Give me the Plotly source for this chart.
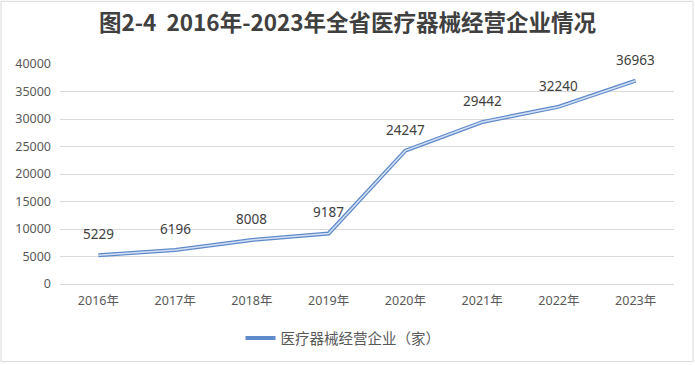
import plotly.graph_objects as go

years = ["2016年", "2017年", "2018年", "2019年", "2020年", "2021年", "2022年", "2023年"]
values = [5229, 6196, 8008, 9187, 24247, 29442, 32240, 36963]
series_name = "医疗器械经营企业（家）"
title_text = "图2-4  2016年-2023年全省医疗器械经营企业情况"
y_ticks = [0, 5000, 10000, 15000, 20000, 25000, 30000, 35000, 40000]

W, H = 695, 365
ml, mr, mt, mb = 60, 21, 64, 80
font_fam = "Noto Sans, Noto Sans CJK SC, sans-serif"

fig = go.Figure()
fig.add_trace(go.Scatter(
    x=years, y=values, mode="lines", name=series_name,
    line=dict(color="#5F8ACB", width=4), showlegend=True,
))
fig.add_trace(go.Scatter(
    x=years, y=values, mode="lines", name=series_name,
    line=dict(color="#D3E0F2", width=1.5), showlegend=False, hoverinfo="skip",
))

for x, v in zip(years, values):
    fig.add_annotation(x=x, y=v, text=str(v), showarrow=False, yshift=21,
                       font=dict(size=13.5, color="#404040", family=font_fam))

pw = W - ml - mr
ph = H - mt - mb
def px2x(p): return (p - ml) / pw
def py2y(p): return 1 - (p - mt) / ph

fig.add_shape(type="rect", xref="paper", yref="paper",
              x0=px2x(1), x1=px2x(W - 2), y0=py2y(1), y1=py2y(H - 2),
              line=dict(color="#D9D9D9", width=1), fillcolor="rgba(0,0,0,0)", layer="below")

fig.update_layout(
    width=W, height=H,
    margin=dict(l=ml, r=mr, t=mt, b=mb),
    paper_bgcolor="white", plot_bgcolor="white",
    title=dict(text=title_text, x=0.5, xanchor="center", y=1 - 23 / H, yanchor="middle",
               font=dict(size=22.5, color="#404040", family="Noto Sans CJK SC, sans-serif", weight="bold")),
    font=dict(family=font_fam, color="#595959", size=12),
    xaxis=dict(type="category", showgrid=False, showline=False, zeroline=False,
               tickfont=dict(size=12.5, color="#595959"), ticks="", ticklabelstandoff=7,
               range=[-0.5, len(years) - 0.5]),
    yaxis=dict(range=[0, 40000], tickvals=y_ticks, ticktext=[str(t) for t in y_ticks],
               showgrid=True, gridcolor="#D9D9D9", gridwidth=1, zeroline=True,
               zerolinecolor="#D9D9D9", zerolinewidth=1, showline=False,
               tickfont=dict(size=12.5, color="#595959"), ticks="", ticklabelstandoff=8),
    legend=dict(orientation="h", x=px2x(343), xanchor="center", y=py2y(338), yanchor="middle",
                font=dict(size=14.5, color="#595959", family=font_fam),
                bgcolor="rgba(0,0,0,0)"),
    showlegend=True,
)

fig.write_html("out.html", config={"displayModeBar": False},
               post_script="document.body.style.margin='0';document.body.style.padding='0';")
